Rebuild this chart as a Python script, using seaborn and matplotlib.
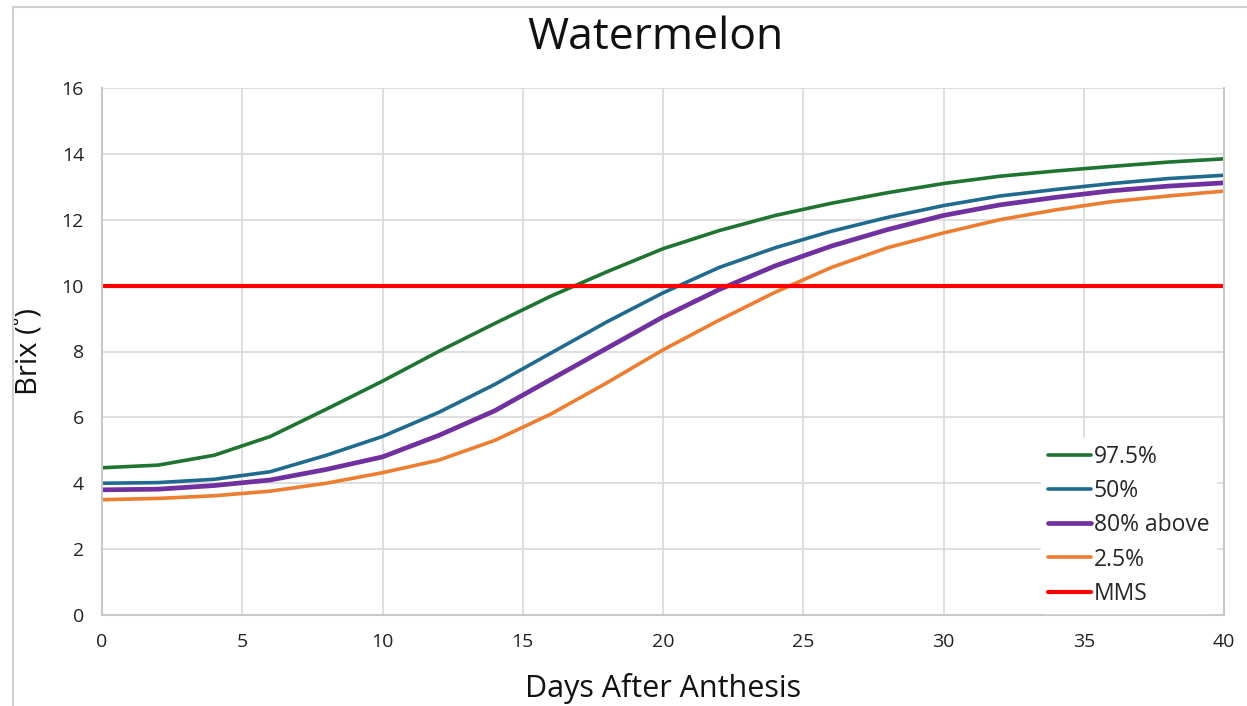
import numpy as np
import pandas as pd
import matplotlib
matplotlib.use("Agg")
import matplotlib.pyplot as plt
import seaborn as sns
from matplotlib.patches import Rectangle

# data (every 2 days)
days = list(range(0, 41, 2))
p975 = [4.47, 4.55, 4.85, 5.42, 6.25, 7.1, 8.0, 8.85, 9.68, 10.42, 11.12,
        11.67, 12.13, 12.5, 12.82, 13.1, 13.32, 13.48, 13.62, 13.75, 13.85]
p50 = [4.0, 4.02, 4.12, 4.35, 4.85, 5.42, 6.15, 7.0, 7.95, 8.9, 9.78,
       10.55, 11.15, 11.65, 12.07, 12.43, 12.72, 12.92, 13.1, 13.25, 13.35]
p80 = [3.8, 3.82, 3.93, 4.1, 4.42, 4.8, 5.45, 6.2, 7.15, 8.1, 9.05,
       9.88, 10.6, 11.2, 11.7, 12.13, 12.45, 12.68, 12.88, 13.02, 13.12]
p25 = [3.5, 3.54, 3.62, 3.76, 4.0, 4.32, 4.7, 5.3, 6.1, 7.05, 8.05,
       8.95, 9.8, 10.55, 11.15, 11.6, 12.0, 12.3, 12.55, 12.72, 12.87]
mms = 10

series_names = ["97.5%", "50%", "80% above", "2.5%"]
colors = {"97.5%": "#1e7430", "50%": "#1f6a8e", "80% above": "#7030a0", "2.5%": "#ed7d31"}
widths = {"97.5%": 2.6, "50%": 2.6, "80% above": 3.4, "2.5%": 2.6}

df = pd.DataFrame({"day": days, "97.5%": p975, "50%": p50, "80% above": p80, "2.5%": p25})
long = df.melt(id_vars="day", var_name="series", value_name="brix")

sns.set_theme(style="whitegrid")
plt.rcParams["font.family"] = ["Open Sans", "DejaVu Sans"]

fig = plt.figure(figsize=(12.47, 7.06), dpi=100)
ax = fig.add_axes([102 / 1247, 91 / 706, 1122 / 1247, 527 / 706])

for name in series_names:
    sub = long[long["series"] == name]
    sns.lineplot(data=sub, x="day", y="brix", ax=ax, color=colors[name],
                 linewidth=widths[name], label=name)
ax.axhline(mms, color="#ff0000", linewidth=3, label="MMS")

ax.set_xlim(0, 40)
ax.set_ylim(0, 16)
ax.set_xticks(range(0, 41, 5))
ax.set_yticks(range(0, 17, 2))
ax.grid(True, color="#d9d9d9", linewidth=1.2)
ax.tick_params(axis="both", labelsize=14, colors="#222222", length=0, pad=13)
for side in ["left", "bottom", "right"]:
    ax.spines[side].set_color("#c8c8c8")
    ax.spines[side].set_linewidth(1.5)
ax.spines["top"].set_visible(False)

ax.set_xlabel("Days After Anthesis", fontsize=22, labelpad=16, color="#111111")
ax.set_ylabel("Brix (˚)", fontsize=21, labelpad=12, color="#111111")

fig.text(655 / 1247, 1 - 38 / 706, "Watermelon", fontsize=32, ha="center", va="center", color="#111111")

leg = ax.legend(loc="lower right", frameon=True, fontsize=16.5, handlelength=1.9,
                handletextpad=0.1, labelspacing=0.45, borderaxespad=0.1,
                borderpad=0.3, bbox_to_anchor=(0.995, 0.0))
leg.get_frame().set_edgecolor("white")
leg.get_frame().set_facecolor("white")
leg.get_frame().set_alpha(1)

# light outer border like the source picture
fig.patches.append(Rectangle((13 / 1247, -0.05), 1.2, 1 - 7 / 706 + 0.05, transform=fig.transFigure,
                             fill=False, edgecolor="#d0d0d0", linewidth=1.5))

fig.savefig("out.png", dpi=100)
